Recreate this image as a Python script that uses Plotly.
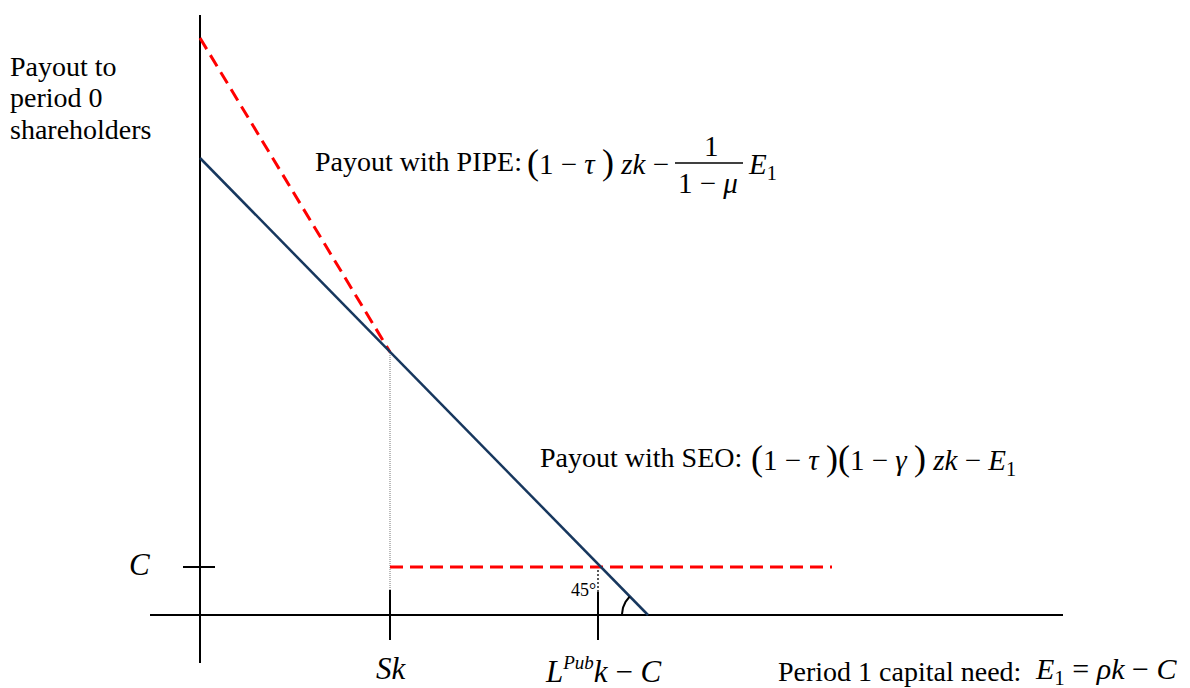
import numpy as np
import plotly.graph_objects as go

W, H = 1190, 688          # browser window
OX, OY = 8, 8             # default page (body) margin of the HTML page
FW, FH = W - OX, H - OY   # figure size so it fits exactly in the window

# ---- diagram values (diagram units: origin at the axes crossing) ----
x_axis_extent = [-50, 863]      # horizontal axis: period 1 capital need
y_axis_extent = [-48, 600]      # vertical axis: payout to period 0 shareholders
seo_x = [0, 448]                # payout with SEO (solid blue)
seo_y = [457, 0]
pipe_x = [0, 190]               # payout with PIPE (red dashed)
pipe_y = [577, 263]
sk_value = 190                  # Sk
sk_payout = 263                 # payout at Sk
lpub_value = 398                # L^Pub k - C
c_value = 48                    # C
c_line_x = [190, 632]           # red dashed horizontal at C
angle_deg = 45

BLUE = "#17375E"
RED = "#FF0000"
FONT = "Liberation Serif"

fig = go.Figure()


def seg(x, y, color="black", width=2, dash="solid"):
    fig.add_trace(go.Scatter(x=list(x), y=list(y), mode="lines",
                             line=dict(color=color, width=width, dash=dash),
                             hoverinfo="skip", showlegend=False))


# axes
seg([0, 0], y_axis_extent)
seg(x_axis_extent, [0, 0])
# C tick on vertical axis
seg([-17, 15], [c_value, c_value])
# Sk tick and dotted guide
seg([sk_value, sk_value], [-25, 25])
seg([sk_value, sk_value], [25, sk_payout], color="#777777", width=1, dash="1px,1px")
# L^Pub k - C tick and dotted guide
seg([lpub_value, lpub_value], [-25, 23])
seg([lpub_value, lpub_value], [23, c_value], color="#222222", width=1.5, dash="2px,2px")
# red dashed horizontal at C
seg(c_line_x, [c_value, c_value], RED, 3, "13px,7px")
# PIPE payout
seg(pipe_x, pipe_y, RED, 3, "13px,7px")
# SEO payout
seg(seo_x, seo_y, BLUE, 2.5)
# 45 degree arc
r = 26
theta = np.radians(np.linspace(180 - angle_deg, 180, 25))
seg(seo_x[1] + r * np.cos(theta), r * np.sin(theta), "black", 2)


def ann(text, px, py, size=28, xanchor="left", yanchor="middle"):
    fig.add_annotation(x=(px - OX) / FW, y=1 - (py - OY) / FH, xref="paper", yref="paper",
                       text=text, showarrow=False, xanchor=xanchor, yanchor=yanchor,
                       font=dict(family=FONT, size=size, color="black"))


def P(s, size=36):
    return f"<span style='font-size:{size}px'>{s}</span>"


# y-axis title
ann("Payout to", 8, 66)
ann("period 0", 8, 98)
ann("shareholders", 8, 129)

# PIPE label and formula
ann("Payout with PIPE:", 313, 162)
ann(P("(") + "1 − <i>τ</i> " + P(")") + " <i>zk</i> −", 525, 162, size=29)
ann("1", 711, 146, size=29, xanchor="center")
fig.add_shape(type="line", xref="paper", yref="paper",
              x0=(675 - OX) / FW, x1=(743 - OX) / FW,
              y0=1 - (163 - OY) / FH, y1=1 - (163 - OY) / FH,
              line=dict(color="black", width=1.5))
ann("1 − <i>μ</i>", 708, 183, size=29, xanchor="center")
ann("<i>E</i><sub>1</sub>", 746, 166, size=29)

# SEO label and formula
ann("Payout with SEO:", 538, 457)
ann(P("(") + "1 − <i>τ</i> " + P(")") + P("(") + "1 − <i>γ</i> " + P(")")
    + " <i>zk</i> − <i>E</i><sub>1</sub>", 749, 459, size=29)

# axis marks
ann("<i>C</i>", 139, 564, size=31, xanchor="center")
ann("<i>Sk</i>", 391, 668, size=31, xanchor="center")
ann("45°", 583, 590, size=18, xanchor="center")
ann("<i>L</i><sup><i>" + P("Pub", 19) + "</i></sup><i>k</i> − <i>C</i>", 543, 670, size=31)
ann("Period 1 capital need:", 776, 671)
ann("<i>E</i><sub>1</sub> = <i>ρk</i> − <i>C</i>", 1033, 671, size=30)

fig.update_layout(
    width=FW, height=FH,
    margin=dict(l=0, r=0, t=0, b=0),
    paper_bgcolor="white", plot_bgcolor="white",
    xaxis=dict(range=[OX - 200, W - 200], visible=False, fixedrange=True),
    yaxis=dict(range=[615 - H, 615 - OY], visible=False, fixedrange=True),
    showlegend=False,
)

fig.write_html("out.html")
